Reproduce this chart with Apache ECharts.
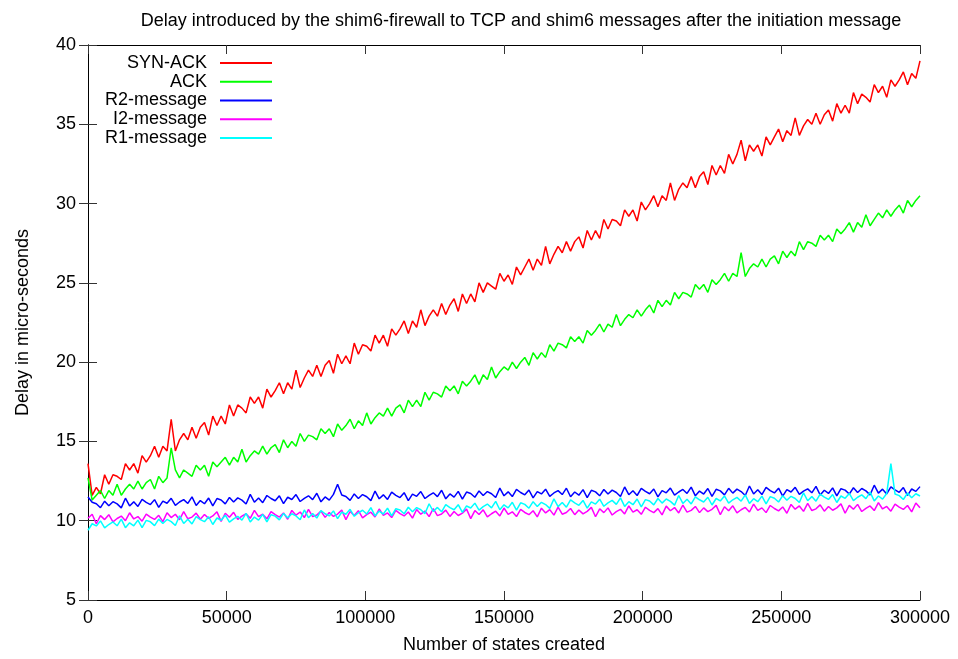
<!DOCTYPE html>
<html>
<head>
<meta charset="utf-8">
<script src="https://cdn.jsdelivr.net/npm/echarts@6/dist/echarts.min.js"></script>
<style>
  html, body { margin: 0; padding: 0; background: #fff; }
  #chart { width: 958px; height: 659px; }
</style>
</head>
<body>
<div id="chart"></div>
<script>
// samples every 1500 states, 0 .. 300000
const step = 1500;
const states = [];
for (let i = 0; i <= 200; i++) states.push(i * step);

const synAck = [
  13.6, 11.6, 12.1, 11.7, 12.9, 12.3, 12.9, 12.8, 12.6, 13.6,
  13.2, 13.6, 13.0, 14.1, 13.7, 14.1, 14.7, 14.0, 14.7, 14.4,
  16.4, 14.4, 15.1, 15.5, 15.1, 15.9, 15.2, 15.9, 16.2, 15.4,
  16.6, 16.0, 16.6, 16.1, 17.3, 16.6, 17.3, 17.1, 16.8, 17.8,
  17.4, 17.8, 17.1, 18.3, 17.8, 18.2, 18.7, 18.0, 18.7, 18.3,
  19.5, 18.4, 19.0, 19.5, 19.1, 19.8, 19.1, 19.8, 20.1, 19.3,
  20.5, 19.9, 20.4, 19.9, 21.2, 20.5, 21.1, 21.0, 20.7, 21.7,
  21.2, 21.7, 21.0, 22.1, 21.7, 22.1, 22.6, 21.8, 22.6, 22.2,
  23.3, 22.3, 22.9, 23.3, 22.9, 23.7, 23.0, 23.6, 24.0, 23.2,
  24.3, 23.7, 24.3, 23.8, 25.0, 24.4, 25.0, 24.8, 24.6, 25.6,
  25.1, 25.5, 24.9, 26.0, 25.5, 26.0, 26.5, 25.8, 26.5, 26.1,
  27.3, 26.2, 26.8, 27.3, 26.9, 27.6, 27.0, 27.6, 27.9, 27.2,
  28.3, 27.7, 28.3, 27.8, 29.0, 28.4, 29.0, 28.9, 28.6, 29.6,
  29.2, 29.6, 28.9, 30.1, 29.6, 30.0, 30.5, 29.8, 30.5, 30.2,
  31.3, 30.2, 30.9, 31.3, 31.0, 31.7, 31.0, 31.7, 32.0, 31.2,
  32.4, 31.8, 32.4, 31.9, 33.1, 32.5, 33.1, 34.0, 32.7, 33.7,
  33.3, 33.7, 33.0, 34.2, 33.7, 34.2, 34.7, 33.9, 34.6, 34.3,
  35.4, 34.3, 34.9, 35.3, 35.0, 35.7, 35.0, 35.6, 35.9, 35.2,
  36.3, 35.7, 36.2, 35.7, 37.0, 36.3, 36.9, 36.7, 36.4, 37.5,
  37.0, 37.4, 36.7, 37.8, 37.4, 37.8, 38.3, 37.5, 38.2, 37.9,
  39.0
];

const ack = [
  12.7, 11.3, 11.6, 11.9, 11.4, 11.9, 11.6, 12.3, 11.6, 12.0,
  12.3, 12.0, 12.5, 12.0, 12.4, 12.6, 12.0, 12.8, 12.4, 12.7,
  14.6, 13.2, 12.7, 13.2, 13.0, 12.8, 13.5, 13.2, 13.5, 12.8,
  13.7, 13.4, 13.7, 14.0, 13.5, 14.0, 13.7, 14.5, 13.7, 14.1,
  14.4, 14.2, 14.7, 14.2, 14.6, 14.8, 14.3, 15.1, 14.6, 15.0,
  14.7, 15.5, 15.0, 15.4, 15.3, 15.1, 15.8, 15.5, 15.8, 15.3,
  16.1, 15.7, 16.0, 16.4, 15.8, 16.3, 16.0, 16.8, 16.1, 16.5,
  16.8, 16.6, 17.1, 16.6, 17.1, 17.3, 16.8, 17.6, 17.2, 17.6,
  17.2, 18.1, 17.6, 18.1, 18.0, 17.8, 18.5, 18.2, 18.5, 18.0,
  18.8, 18.5, 18.8, 19.2, 18.6, 19.2, 18.9, 19.7, 19.0, 19.4,
  19.7, 19.5, 20.0, 19.6, 20.0, 20.3, 19.8, 20.6, 20.2, 20.6,
  20.3, 21.1, 20.7, 21.2, 21.1, 20.9, 21.6, 21.3, 21.6, 21.2,
  22.0, 21.7, 22.0, 22.4, 21.9, 22.4, 22.2, 23.0, 22.3, 22.7,
  23.0, 22.8, 23.3, 22.9, 23.3, 23.6, 23.1, 23.9, 23.5, 23.9,
  23.6, 24.4, 24.0, 24.4, 24.3, 24.1, 24.9, 24.6, 24.9, 24.4,
  25.2, 24.9, 25.2, 25.6, 25.1, 25.6, 25.4, 26.9, 25.4, 25.9,
  26.2, 26.0, 26.5, 26.0, 26.5, 26.7, 26.2, 27.0, 26.6, 27.0,
  26.7, 27.6, 27.1, 27.6, 27.5, 27.3, 28.0, 27.7, 28.0, 27.6,
  28.4, 28.1, 28.4, 28.8, 28.2, 28.8, 28.5, 29.3, 28.6, 29.0,
  29.4, 29.1, 29.6, 29.2, 29.6, 29.9, 29.4, 30.2, 29.8, 30.2,
  30.5
];

const r2Message = [
  11.5, 11.16, 11.07, 10.82, 11.23, 10.94, 11.2, 11.06, 10.81, 11.42,
  10.93, 11.19, 10.9, 11.35, 11.16, 11.02, 11.33, 10.84, 11.24, 11.1,
  11.41, 10.97, 11.18, 11.33, 11.09, 11.5, 10.96, 11.27, 11.07, 11.43,
  10.94, 11.4, 11.31, 11.06, 11.47, 11.18, 11.44, 11.3, 11.05, 11.66,
  11.17, 11.43, 11.14, 11.59, 11.4, 11.26, 11.57, 11.08, 11.48, 11.34,
  11.65, 11.21, 11.41, 11.57, 11.33, 11.73, 11.19, 11.5, 11.3, 11.66,
  12.3, 11.62, 11.53, 11.28, 11.69, 11.4, 11.65, 11.51, 11.27, 11.87,
  11.38, 11.63, 11.34, 11.8, 11.6, 11.46, 11.77, 11.27, 11.68, 11.54,
  11.84, 11.4, 11.6, 11.76, 11.52, 11.92, 11.38, 11.69, 11.49, 11.85,
  11.36, 11.81, 11.72, 11.48, 11.88, 11.59, 11.84, 11.7, 11.46, 12.06,
  11.57, 11.82, 11.52, 11.98, 11.78, 11.63, 11.93, 11.44, 11.84, 11.69,
  11.99, 11.54, 11.75, 11.9, 11.65, 12.05, 11.51, 11.81, 11.61, 11.96,
  11.46, 11.92, 11.82, 11.57, 11.97, 11.68, 11.93, 11.78, 11.53, 12.13,
  11.64, 11.89, 11.59, 12.04, 11.85, 11.7, 12.0, 11.5, 11.9, 11.76,
  12.06, 11.61, 11.81, 11.97, 11.72, 12.12, 11.57, 11.87, 11.68, 12.03,
  11.53, 11.98, 11.88, 11.63, 12.04, 11.74, 11.99, 11.84, 11.59, 12.19,
  11.69, 11.95, 11.65, 12.1, 11.9, 11.75, 12.05, 11.55, 11.96, 11.81,
  12.11, 11.66, 11.86, 12.01, 11.76, 12.17, 11.62, 11.92, 11.72, 12.07,
  11.57, 12.02, 11.93, 11.68, 12.08, 11.78, 12.03, 11.88, 11.63, 12.24,
  11.74, 11.99, 11.69, 12.14, 11.94, 11.79, 12.09, 11.6, 12.0, 11.85,
  12.15
];

const i2Message = [
  10.15, 10.41, 9.81, 10.32, 10.07, 10.38, 9.93, 10.14, 10.29, 10.0,
  10.5, 10.11, 10.26, 9.97, 10.42, 10.23, 10.08, 10.34, 9.94, 10.5,
  10.2, 10.41, 10.06, 10.57, 10.12, 10.23, 10.48, 10.09, 10.39, 10.15,
  10.3, 10.56, 9.96, 10.47, 10.22, 10.53, 10.08, 10.29, 10.44, 10.15,
  10.65, 10.26, 10.41, 10.12, 10.57, 10.38, 10.23, 10.49, 10.09, 10.65,
  10.35, 10.55, 10.2, 10.71, 10.26, 10.36, 10.61, 10.21, 10.52, 10.27,
  10.42, 10.67, 10.07, 10.58, 10.33, 10.63, 10.18, 10.38, 10.54, 10.24,
  10.74, 10.34, 10.49, 10.2, 10.65, 10.45, 10.3, 10.55, 10.16, 10.71,
  10.41, 10.61, 10.26, 10.77, 10.32, 10.42, 10.67, 10.27, 10.58, 10.33,
  10.48, 10.73, 10.13, 10.64, 10.39, 10.69, 10.24, 10.44, 10.6, 10.3,
  10.8, 10.4, 10.56, 10.26, 10.72, 10.52, 10.38, 10.63, 10.24, 10.79,
  10.49, 10.7, 10.35, 10.86, 10.41, 10.52, 10.77, 10.38, 10.68, 10.43,
  10.59, 10.84, 10.25, 10.75, 10.51, 10.81, 10.36, 10.57, 10.72, 10.43,
  10.93, 10.54, 10.69, 10.4, 10.85, 10.65, 10.51, 10.76, 10.37, 10.92,
  10.63, 10.83, 10.49, 10.99, 10.54, 10.65, 10.9, 10.51, 10.81, 10.57,
  10.72, 10.97, 10.38, 10.88, 10.63, 10.94, 10.49, 10.69, 10.84, 10.55,
  11.05, 10.65, 10.81, 10.51, 10.96, 10.77, 10.62, 10.87, 10.47, 11.03,
  10.73, 10.93, 10.59, 11.09, 10.64, 10.75, 11.0, 10.6, 10.9, 10.66,
  10.81, 11.06, 10.47, 10.97, 10.72, 11.03, 10.58, 10.78, 10.93, 10.64,
  11.14, 10.74, 10.9, 10.6, 11.05, 10.86, 10.71, 10.96, 10.56, 11.12,
  10.82
];

const r1Message = [
  9.4, 9.81, 9.67, 9.99, 9.55, 9.76, 9.92, 9.68, 10.1, 9.56,
  9.87, 9.68, 10.04, 9.56, 10.02, 9.93, 9.69, 10.1, 9.82, 10.08,
  9.94, 9.7, 10.31, 9.83, 10.09, 9.8, 10.26, 10.07, 9.94, 10.25,
  9.76, 10.17, 10.03, 10.35, 9.91, 10.12, 10.28, 10.04, 10.46, 9.92,
  10.23, 10.04, 10.4, 9.92, 10.38, 10.29, 10.05, 10.46, 10.18, 10.44,
  10.3, 10.06, 10.68, 10.19, 10.45, 10.17, 10.63, 10.44, 10.3, 10.62,
  10.13, 10.54, 10.41, 10.72, 10.28, 10.5, 10.66, 10.42, 10.83, 10.3,
  10.61, 10.42, 10.79, 10.3, 10.76, 10.68, 10.44, 10.85, 10.56, 10.83,
  10.69, 10.45, 11.07, 10.58, 10.84, 10.56, 11.02, 10.83, 10.69, 11.01,
  10.52, 10.93, 10.8, 11.11, 10.67, 10.89, 11.05, 10.81, 11.22, 10.69,
  11.0, 10.81, 11.16, 10.67, 11.13, 11.03, 10.79, 11.2, 10.9, 11.16,
  11.02, 10.78, 11.38, 10.89, 11.15, 10.85, 11.31, 11.12, 10.97, 11.28,
  10.79, 11.19, 11.05, 11.36, 10.91, 11.12, 11.28, 11.03, 11.44, 10.9,
  11.2, 11.01, 11.37, 10.87, 11.33, 11.24, 11.0, 11.4, 11.11, 11.37,
  11.22, 10.98, 11.59, 11.09, 11.35, 11.06, 11.51, 11.32, 11.18, 11.48,
  10.99, 11.4, 11.25, 11.56, 11.11, 11.32, 11.47, 11.23, 11.63, 11.09,
  11.39, 11.2, 11.55, 11.06, 11.52, 11.42, 11.18, 11.58, 11.29, 11.54,
  11.4, 11.15, 11.76, 11.26, 11.52, 11.23, 11.68, 11.49, 11.34, 11.65,
  11.15, 11.56, 11.41, 11.72, 11.27, 11.48, 11.63, 11.39, 11.8, 11.25,
  11.56, 11.36, 11.72, 13.6, 11.68, 11.58, 11.34, 11.74, 11.45, 11.7,
  11.56
];

const seriesNames = ['SYN-ACK', 'ACK', 'R2-message', 'I2-message', 'R1-message'];
const seriesValues = [synAck, ack, r2Message, i2Message, r1Message];
const seriesColors = ['#ff0000', '#00ff00', '#0000ff', '#ff00ff', '#00ffff'];

const xTicks = { min: 0, max: 300000, interval: 50000 };
const yTicks = { min: 5, max: 40, interval: 5 };

const font = 'Liberation Sans, Arial, Helvetica, sans-serif';

let chart = echarts.init(document.getElementById('chart'));

function pairs(values) {
  return values.map((v, i) => [states[i], v]);
}

const axisCommon = {
  axisLine: { show: true, lineStyle: { color: '#000', width: 1 } },
  axisTick: { show: true, inside: true, length: 9, lineStyle: { color: '#333', width: 1 } },
  splitLine: { show: false }
};

const option = {
  animation: false,
  backgroundColor: '#fff',
  textStyle: { fontFamily: font },
  title: {
    text: 'Delay introduced by the shim6-firewall to TCP and shim6 messages after the initiation message',
    left: 516,
    textAlign: 'center',
    top: 7,
    textStyle: { fontFamily: font, fontSize: 18, fontWeight: 'normal', color: '#000' }
  },
  legend: {
    orient: 'vertical',
    align: 'right',
    right: 685,
    top: 54,
    padding: 0,
    itemWidth: 52,
    itemHeight: 14,
    itemGap: 0.75,
    data: seriesNames,
    itemStyle: { opacity: 0 },
    textStyle: { fontFamily: font, fontSize: 18, color: '#000', padding: [0, 8, 0, 0] }
  },
  grid: { left: 88, right: 38, top: 45, bottom: 56, containLabel: false },
  xAxis: [
    Object.assign({
      type: 'value',
      min: xTicks.min, max: xTicks.max, interval: xTicks.interval,
      name: 'Number of states created',
      nameLocation: 'middle',
      nameGap: 36,
      nameTextStyle: { fontFamily: font, fontSize: 18, color: '#000' },
      axisLabel: {
        color: '#000', fontSize: 18, margin: 9, fontFamily: font,
        formatter: function (v) { return String(v); }
      }
    }, axisCommon),
    Object.assign({
      type: 'value', position: 'top',
      min: xTicks.min, max: xTicks.max, interval: xTicks.interval,
      axisLabel: { show: false }
    }, axisCommon)
  ],
  yAxis: [
    Object.assign({
      type: 'value',
      min: yTicks.min, max: yTicks.max, interval: yTicks.interval,
      name: 'Delay in micro-seconds',
      nameLocation: 'middle',
      nameGap: 56,
      nameRotate: 90,
      nameTextStyle: { fontFamily: font, fontSize: 18, color: '#000' },
      axisLabel: { color: '#000', fontSize: 18, margin: 12, fontFamily: font }
    }, axisCommon),
    Object.assign({
      type: 'value', position: 'right',
      min: yTicks.min, max: yTicks.max, interval: yTicks.interval,
      axisLabel: { show: false }
    }, axisCommon)
  ],
  series: seriesNames.map((name, k) => ({
    name: name,
    type: 'line',
    data: pairs(seriesValues[k]),
    symbol: 'none',
    showSymbol: false,
    color: seriesColors[k],
    lineStyle: { color: seriesColors[k], width: 1.5 },
    emphasis: { disabled: true }
  }))
};

chart.setOption(option);
window.addEventListener('resize', function () {
  chart.resize();
});
</script>
</body>
</html>
